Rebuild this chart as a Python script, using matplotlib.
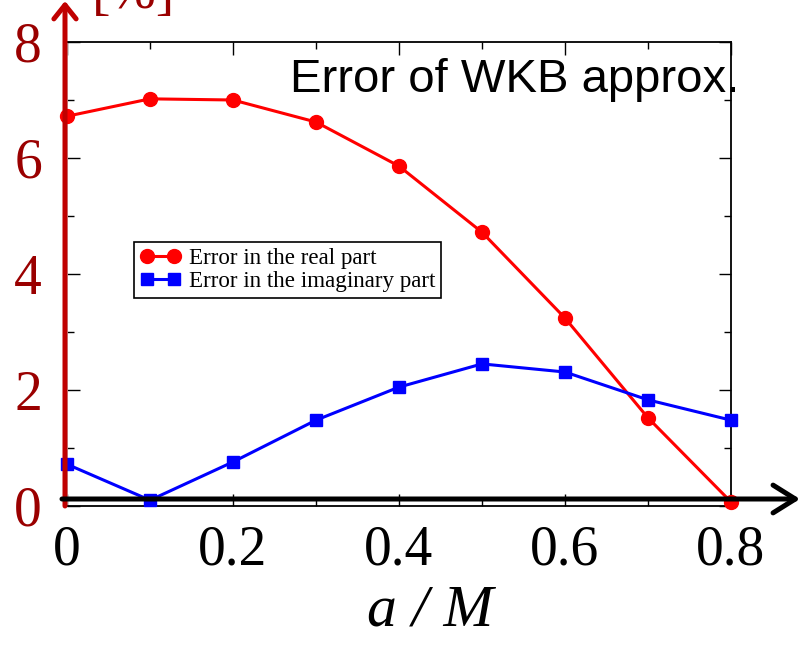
import numpy as np
import matplotlib
matplotlib.use('Agg')
import matplotlib.pyplot as plt
from matplotlib.patches import FancyArrowPatch

plt.rcParams['font.family'] = ['Liberation Serif', 'DejaVu Serif']

# data
a_over_M = [0.0, 0.1, 0.2, 0.3, 0.4, 0.5, 0.6, 0.7, 0.8]
err_real = [6.72, 7.02, 7.00, 6.62, 5.86, 4.72, 3.24, 1.52, 0.07]
err_imag = [0.72, 0.10, 0.76, 1.48, 2.05, 2.45, 2.31, 1.83, 1.48]

xticks = [0, 0.2, 0.4, 0.6, 0.8]
xticklabels = ['0', '0.2', '0.4', '0.6', '0.8']
yticks = [0, 2, 4, 6, 8]
yticklabels = ['0', '2', '4', '6', '8']

W, H = 808, 649
def fp(x, y):
    # pixel (from top-left) -> figure fraction
    return (x / W, 1 - y / H)

fig = plt.figure(figsize=(W / 100, H / 100), dpi=100)
ax = fig.add_axes([67 / W, 1 - 506 / H, (731 - 67) / W, (506 - 42) / H])

ax.plot(a_over_M, err_real, 'o-', color='#ff0000', ms=10, lw=2.2,
        clip_on=False, zorder=5, label='Error in the real part')
ax.plot(a_over_M, err_imag, 's-', color='#0000ff', ms=8.5, lw=2.2,
        clip_on=False, zorder=5, label='Error in the imaginary part')

ax.set_xlim(0, 0.8)
ax.set_ylim(0, 8)

ax.set_xticks(xticks)
ax.set_xticklabels(xticklabels)
ax.set_xticks(np.arange(0.1, 0.8, 0.2), minor=True)
ax.set_yticks(yticks)
ax.set_yticklabels(yticklabels)
ax.set_yticks([1, 3, 5, 7], minor=True)

ax.tick_params(which='both', direction='in', top=True, right=True, width=1)
ax.tick_params(which='major', length=9)
ax.tick_params(which='minor', length=5)
ax.tick_params(axis='x', which='major', labelsize=40, pad=13, labelcolor='black')
ax.tick_params(axis='y', which='major', labelsize=40, pad=18, labelcolor='#9a0000')

for s in ax.spines.values():
    s.set_linewidth(1.3)
ax.spines['left'].set_color('#cccccc')

leg = ax.legend(loc='upper left', bbox_to_anchor=fp(134, 242),
                bbox_transform=fig.transFigure, borderaxespad=0,
                fancybox=False, edgecolor='black', framealpha=1,
                fontsize=16.6, numpoints=2, handlelength=1.8,
                handletextpad=0.35, borderpad=0.25, labelspacing=0.1)
leg.get_frame().set_linewidth(1.2)

# red y axis arrow
fig.add_artist(FancyArrowPatch(fp(65, 506), fp(65, 1), transform=fig.transFigure,
                               arrowstyle='->,head_length=0.5,head_width=0.4',
                               mutation_scale=20, lw=3.6, color='#c00000',
                               shrinkA=0, shrinkB=0, zorder=10))
# black x axis arrow
fig.add_artist(FancyArrowPatch(fp(62, 499), fp(800, 499), transform=fig.transFigure,
                               arrowstyle='->,head_length=0.8,head_width=0.5',
                               mutation_scale=20, lw=3.6, color='black',
                               shrinkA=0, shrinkB=0, zorder=10))

fig.text(*fp(92, 8), '[%]', fontsize=40, color='#9a0000', ha='left', va='baseline')
fig.text(*fp(290, 92), 'Error of WKB approx.', family='Liberation Sans',
         fontsize=34, color='black', ha='left', va='baseline')
fig.text(*fp(430, 612), 'a / M', fontsize=43, style='italic',
         ha='center', va='center')

fig.savefig('out.png', dpi=100)
